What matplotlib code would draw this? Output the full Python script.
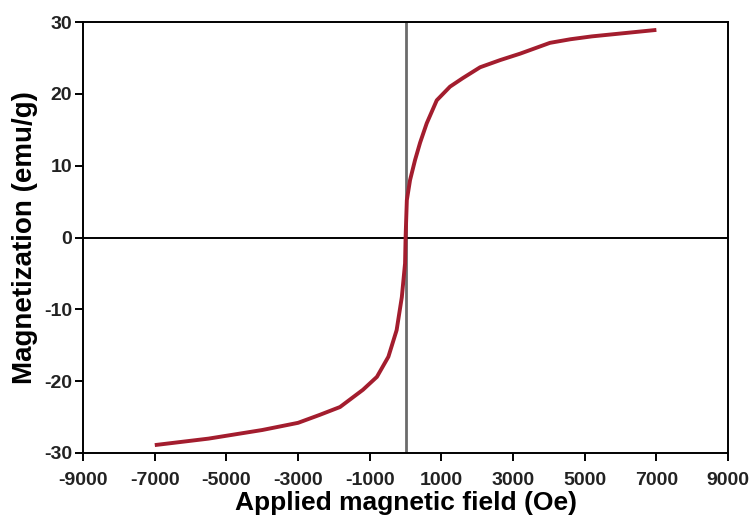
import matplotlib.pyplot as plt

# values
field_oe = [-7000, -6500, -6000, -5500, -5000, -4500, -4000, -3500, -3000,
            -2400, -1830, -1190, -800, -480, -250, -105, -15, 0,
            35, 125, 265, 405, 590, 870, 1240, 1600, 2080, 2640, 3200,
            4030, 4600, 5200, 5800, 6400, 7000]
magnetization = [-28.9, -28.6, -28.3, -28.0, -27.6, -27.2, -26.8, -26.3, -25.8,
                 -24.7, -23.6, -21.2, -19.4, -16.6, -12.9, -8.3, -3.6, 0.0,
                 5.2, 8.0, 10.8, 13.2, 15.9, 19.1, 21.0, 22.2, 23.7, 24.7, 25.6,
                 27.1, 27.6, 28.0, 28.3, 28.6, 28.9]

x_ticks = [-9000, -7000, -5000, -3000, -1000, 1000, 3000, 5000, 7000, 9000]
y_ticks = [-30, -20, -10, 0, 10, 20, 30]

plt.rcParams['font.family'] = ['Liberation Sans', 'DejaVu Sans']

fig = plt.figure(figsize=(7.49, 5.18), dpi=100)
ax = fig.add_axes([0.111, 0.1255, 0.861, 0.832])

ax.axvline(0, color='#6b6b6b', linewidth=2.0, zorder=1)
ax.axhline(0, color='black', linewidth=1.4, zorder=1)
ax.plot(field_oe, magnetization, color='#a31d2e', linewidth=2.8, zorder=2,
        solid_joinstyle='round', solid_capstyle='butt')

ax.set_xlim(-9000, 9000)
ax.set_ylim(-30, 30)
ax.set_xticks(x_ticks)
ax.set_yticks(y_ticks)
ax.set_xticklabels([str(v) for v in x_ticks], fontsize=14, fontweight='bold', color='#222222')
ax.set_yticklabels([str(v) for v in y_ticks], fontsize=14, fontweight='bold', color='#222222')
ax.tick_params(axis='x', direction='out', length=6, width=1.4, pad=8)
ax.tick_params(axis='y', direction='out', length=6, width=1.4, pad=2)

for sp in ax.spines.values():
    sp.set_linewidth(1.4)

ax.set_xlabel("Applied magnetic field (Oe)", fontsize=19, fontweight='bold', labelpad=1)
ax.set_ylabel("Magnetization (emu/g)", fontsize=20, fontweight='bold', labelpad=4)

fig.savefig("out.png", dpi=100)
